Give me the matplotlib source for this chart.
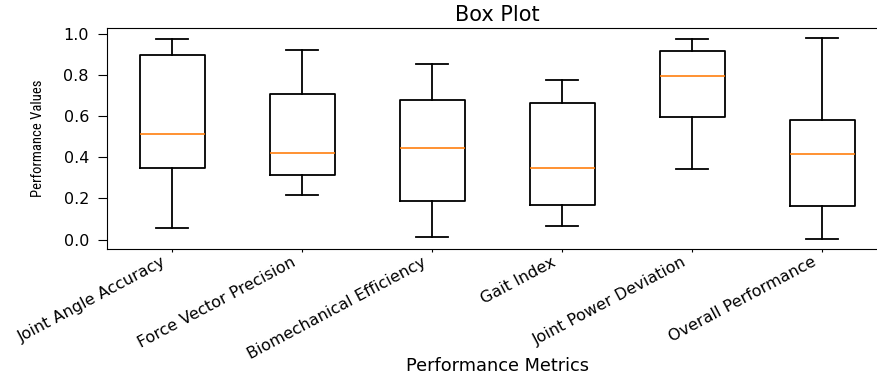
import matplotlib
matplotlib.use("Agg")
import matplotlib.pyplot as plt
from matplotlib.transforms import ScaledTranslation
from matplotlib import font_manager

categories = ["Joint Angle Accuracy", "Force Vector Precision", "Biomechanical Efficiency",
              "Gait Index", "Joint Power Deviation", "Overall Performance"]
whisker_low = [0.056, 0.218, 0.012, 0.064, 0.342, 0.004]
q1 = [0.346, 0.313, 0.188, 0.169, 0.595, 0.161]
medians = [0.511, 0.421, 0.443, 0.346, 0.792, 0.414]
q3 = [0.894, 0.706, 0.679, 0.661, 0.913, 0.580]
whisker_high = [0.973, 0.921, 0.853, 0.776, 0.973, 0.977]
ytick_vals = [0.0, 0.2, 0.4, 0.6, 0.8, 1.0]

stats = []
for i, name in enumerate(categories):
    stats.append(dict(label=name, whislo=whisker_low[i], q1=q1[i], med=medians[i],
                      q3=q3[i], whishi=whisker_high[i], fliers=[]))

fig = plt.figure(figsize=(8.77, 3.76), dpi=100)
ax = fig.add_axes([107 / 877, (376 - 249) / 376, 780 / 877, 221 / 376])

lw = 1.3
ax.bxp(stats, widths=0.5, showfliers=False,
       boxprops=dict(color="black", linewidth=lw),
       whiskerprops=dict(color="black", linewidth=lw),
       capprops=dict(color="black", linewidth=lw),
       medianprops=dict(color="#ff7f0e", linewidth=1.2))

ax.set_xlim(0.5, 6.5)
ax.set_ylim(-0.046, 1.027)
ax.spines["right"].set_visible(False)
ax.set_yticks(ytick_vals)
ax.set_yticklabels([f"{v:.1f}" for v in ytick_vals], fontsize=11.5)
ax.tick_params(axis="y", length=6.5, pad=6.5)
ax.tick_params(axis="x", length=2.5, pad=9)
ax.set_xticks(range(1, len(categories) + 1))
ax.set_xticklabels(categories, rotation=28, ha="right", va="baseline",
                   rotation_mode="anchor", fontsize=11.5)
shift = ScaledTranslation(-5 / 100, 0, fig.dpi_scale_trans)
for lab in ax.get_xticklabels():
    lab.set_transform(lab.get_transform() + shift)

ax.set_title("Box Plot", fontsize=15, pad=5)
ax.set_xlabel("Performance Metrics", fontsize=12.8, va="baseline")
ax.xaxis.set_label_coords(0.5, -0.552)

names = {f.name for f in font_manager.fontManager.ttflist}
narrow = [n for n in ["Liberation Sans Narrow", "Roboto Condensed", "Open Sans Condensed",
                      "DejaVu Sans Condensed"] if n in names]
if narrow:
    ax.set_ylabel("Performance Values", fontsize=10.5, family=narrow + ["DejaVu Sans"])
else:
    ax.set_ylabel("Performance Values", fontsize=10, fontstretch="condensed")
ax.yaxis.set_label_coords(-0.079, 0.5)

fig.savefig("out.png", dpi=100)
